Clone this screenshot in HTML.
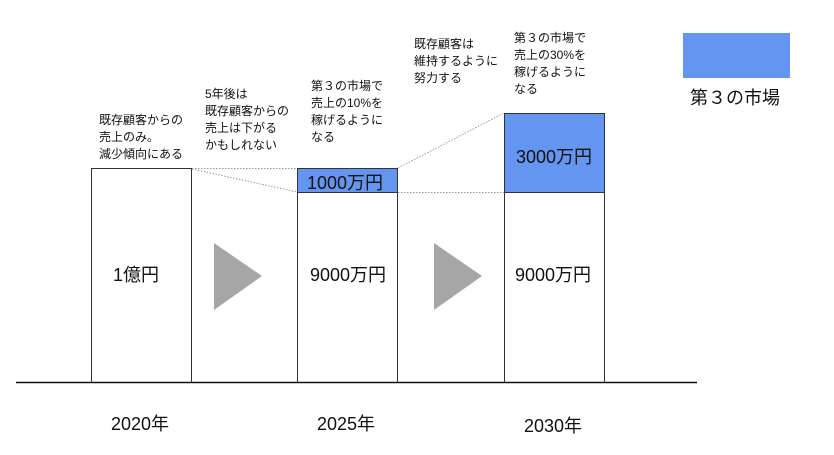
<!DOCTYPE html>
<html><head><meta charset="utf-8"><style>
body{margin:0;width:834px;height:455px;background:#fff;position:relative;overflow:hidden;font-family:"Liberation Sans","Noto Sans CJK JP",sans-serif;color:#111}
.a{position:absolute}
.t{position:absolute;font-size:12px;line-height:17px;white-space:nowrap}
.big{position:absolute;font-size:18px;white-space:nowrap}
</style></head><body>
<svg class="a" style="left:0;top:0" width="834" height="455">
<rect x="91.5" y="168.5" width="100" height="214" fill="#fff" stroke="#333" stroke-width="1"/>
<rect x="297.5" y="192.5" width="100" height="190" fill="#fff" stroke="#333"/>
<rect x="297.5" y="168.5" width="100" height="24" fill="#6495f0" stroke="#333"/>
<rect x="504.5" y="192.5" width="100" height="190" fill="#fff" stroke="#333"/>
<rect x="504.5" y="113.5" width="100" height="79" fill="#6495f0" stroke="#333"/>
<rect x="683" y="33" width="107" height="45" fill="#6495f0"/>
<line x1="16" y1="382.5" x2="697" y2="382.5" stroke="#111" stroke-width="1.5"/>
<g stroke="#999" stroke-dasharray="1.5,1.5" stroke-width="1">
<line x1="192" y1="168.5" x2="297" y2="168.5"/>
<line x1="192" y1="169" x2="297" y2="192"/>
<line x1="398" y1="168" x2="504" y2="113"/>
<line x1="398" y1="192.5" x2="504" y2="192.5"/>
</g>
<polygon points="214,243 262,276 214,310" fill="#a6a6a6"/>
<polygon points="434,243 482,276 434,310" fill="#a6a6a6"/>
</svg>
<div class="t" style="left:99px;top:112px">既存顧客からの<br>売上のみ。<br>減少傾向にある</div>
<div class="t" style="left:205px;top:86px">5年後は<br>既存顧客からの<br>売上は下がる<br>かもしれない</div>
<div class="t" style="left:311px;top:78px">第３の市場で<br>売上の10%を<br>稼げるように<br>なる</div>
<div class="t" style="left:414px;top:36px">既存顧客は<br>維持するように<br>努力する</div>
<div class="t" style="left:514px;top:30px">第３の市場で<br>売上の30%を<br>稼げるように<br>なる</div>
<div class="big" style="left:307px;top:169px">1000万円</div>
<div class="big" style="left:516px;top:143px">3000万円</div>
<div class="big" style="left:113px;top:261px">1億円</div>
<div class="big" style="left:310px;top:261px">9000万円</div>
<div class="big" style="left:515px;top:261px">9000万円</div>
<div class="big" style="left:111px;top:410px">2020年</div>
<div class="big" style="left:317px;top:410px">2025年</div>
<div class="big" style="left:524px;top:412px">2030年</div>
<div class="big" style="left:690px;top:84px;font-size:18px">第３の市場</div>
</body></html>
